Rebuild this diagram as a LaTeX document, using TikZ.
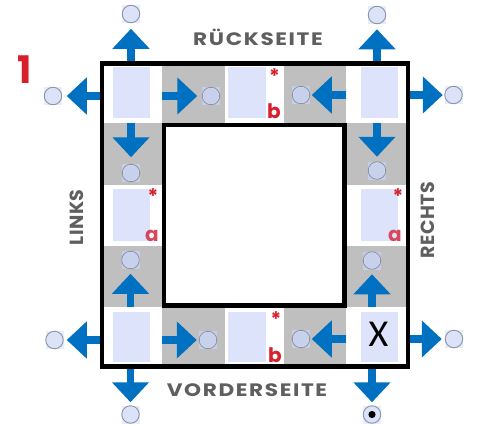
\documentclass[tikz,border=0pt]{standalone}
\usepackage{fontspec}
\usepackage{graphicx}
\setmainfont{Poppins}
\newfontfamily\xfont{Carlito}
\usetikzlibrary{arrows.meta}
\definecolor{grayc}{HTML}{BFBFBF}
\definecolor{lblue}{HTML}{DCE3FA}
\definecolor{arrowc}{HTML}{0070C0}
\definecolor{labc}{HTML}{5F5F5F}
\definecolor{redc}{HTML}{D7202C}
\definecolor{redl}{HTML}{D8475B}
\definecolor{circfill}{HTML}{DCE3F8}
\definecolor{circfillg}{HTML}{C8D1EC}
\definecolor{circline}{HTML}{8C94A8}
\definecolor{sqout}{HTML}{E8EDFA}
\definecolor{sqin}{HTML}{C6CEE6}
\newcommand\mycircle[4]{%
  \fill[#4] (#2-9,#3-9) rectangle (#2+9,#3+9);
  \node[circ] (#1) at (#2,#3) {};}
\newcommand\widelab[1]{\scalebox{1.2}[1]{\addfontfeatures{LetterSpace=7.5}#1}}
\begin{document}
\begin{tikzpicture}[x=1pt,y=-1pt,
  cell/.style 2 args={rectangle,inner sep=0pt,outer sep=0pt,minimum width=#1,minimum height=#2},
  graycell/.style 2 args={cell={#1}{#2},fill=grayc},
  bluebox/.style 2 args={cell={#1}{#2},fill=lblue},
  circ/.style={circle,draw=circline,line width=0.9pt,fill=circfill,inner sep=0pt,outer sep=0pt,minimum size=17.5pt},
  arr/.style={draw=arrowc,line width=7.5pt,-{Triangle[width=36pt,length=20pt]}},
  boxline/.style={draw=black,line width=4.5pt,line join=miter},
  lab/.style={font=\bfseries\fontsize{18}{20}\selectfont,text=labc,inner sep=0pt},
  sidelab/.style={font=\bfseries\fontsize{19}{21}\selectfont\addfontfeatures{LetterSpace=3},text=labc,inner sep=0pt},
  redmark/.style={font=\bfseries\fontsize{20}{22}\selectfont,text=redc,inner sep=0pt},
]
\useasboundingbox[fill=white] (0,0) rectangle (477,426);
% gray cells
\node[graycell={63}{61}] (gt1) at (193.5,94) {};
\node[graycell={62}{61}] (gt2) at (315,94) {};
\node[graycell={58}{62}] (gl1) at (133,154) {};
\node[graycell={58}{61}] (gl2) at (133,276.5) {};
\node[graycell={60}{62}] (gr1) at (376,154) {};
\node[graycell={60}{61}] (gr2) at (376,276.5) {};
\node[graycell={63}{60}] (gb1) at (193.5,336) {};
\node[graycell={62}{60}] (gb2) at (315,336) {};
% corner cells (white)
\node[cell={58}{57}] (tl) at (133,94.5) {};
\node[cell={60}{57}] (tr) at (376,94.5) {};
\node[cell={58}{57}] (bl) at (133,335.5) {};
\node[cell={60}{57}] (br) at (376,335.5) {};
% light blue boxes
\node[bluebox={37}{51}] (btl) at (131.5,92.5) {};
\node[bluebox={38}{51}] (btb) at (247,92.5) {};
\node[bluebox={37}{51}] (btr) at (379.5,92.5) {};
\node[bluebox={37}{52}] (bla) at (131.5,215) {};
\node[bluebox={37}{52}] (bra) at (379.5,215) {};
\node[bluebox={37}{50}] (bbl) at (131.5,337) {};
\node[bluebox={38}{50}] (bbb) at (247,337) {};
\node[bluebox={37}{50}] (bbr) at (379.5,337) {};
% circles
\mycircle{o1}{131}{14}{sqout}
\mycircle{o2}{53}{96}{sqout}
\mycircle{o3}{211}{96}{sqin}
\mycircle{o4}{131}{173}{sqin}
\mycircle{o5}{301}{95}{sqin}
\mycircle{o6}{377}{15}{sqout}
\mycircle{o7}{453.5}{95}{sqout}
\mycircle{o8}{377}{170.5}{sqin}
\mycircle{o9}{130.5}{260}{sqin}
\mycircle{o10}{54.5}{340}{sqout}
\mycircle{o11}{208}{340}{sqin}
\mycircle{o12}{130.5}{414.5}{sqout}
\mycircle{o13}{372}{260.5}{sqin}
\mycircle{o14}{301}{339}{sqin}
\mycircle{o15}{454}{339}{sqout}
\mycircle{o16}{372}{414.5}{sqout}
\foreach \n in {o3,o4,o5,o8,o9,o11,o13,o14} \fill[circfillg] (\n) circle (7.9);
\fill[black] (o16) circle (3.6);
% arrows
\draw[arr,shorten >=6pt] (o1 |- tl.north) -- (o1);
\draw[arr,shorten >=5pt] (tl.west |- o2) -- (o2);
\draw[arr,shorten >=5pt] (gt1.west |- o3) -- (o3);
\draw[arr,shorten >=7pt] (o4 |- gl1.north) -- (o4);
\draw[arr,shorten >=2pt] (gt2.east |- o5) -- (o5);
\draw[arr,shorten >=5.5pt] (o6 |- tr.north) -- (o6);
\draw[arr,shorten >=2pt] (tr.east |- o7) -- (o7);
\draw[arr,shorten >=5pt] (o8 |- gr1.north) -- (o8);
\draw[arr,shorten >=3.5pt] (bl.west |- o10) -- (o10);
\draw[arr,shorten >=3.5pt] (o12 |- bl.south) -- (o12);
\draw[arr,shorten >=5pt] (o9 |- gl2.south) -- (o9);
\draw[arr,shorten >=2.5pt] (gb1.west |- o11) -- (o11);
\draw[arr,shorten >=3.5pt] (br.east |- o15) -- (o15);
\draw[arr,shorten >=3.5pt] (o16 |- br.south) -- (o16);
\draw[arr,shorten >=5pt] (o13 |- gr2.south) -- (o13);
\draw[arr,shorten >=2pt] (gb2.east |- o14) -- (o14);
% frames
\draw[boxline] (102,63.5) rectangle (408,366.5);
\draw[boxline] (164,125) rectangle (344.5,305.7);
% labels
\node[lab,anchor=base] (rueck) at (258,45.3) {\widelab{RÜCKSEITE}};
\node[lab,anchor=base] (vorder) at (247,396.5) {\widelab{VORDERSEITE}};
\node[sidelab,rotate=90] (links) at (77,217.5) {LINKS};
\node[sidelab,rotate=90] (rechts) at (428,220) {RECHTS};
\node[font=\bfseries\fontsize{38}{40}\selectfont,text=redc,anchor=base] (one) at (25,83) {1};
\node[font=\xfont\fontsize{38}{40}\selectfont,inner sep=0pt,anchor=base] (xlab) at (378.5,346) {X};
% red marks
\node[redmark,text=redl,anchor=base] (la) at (152,241) {a};
\node[redmark,text=redl,anchor=base] (ra) at (395,241) {a};
\node[redmark,anchor=base] (b1) at (274,118) {b};
\node[redmark,anchor=base] (b2) at (275,362) {b};
\node[redmark,anchor=north] (s1) at (274.5,68) {*};
\node[redmark,anchor=north] (s2) at (153,188.5) {*};
\node[redmark,anchor=north] (s3) at (398,188.5) {*};
\node[redmark,anchor=north] (s4) at (276,311.5) {*};
\end{tikzpicture}
\end{document}
